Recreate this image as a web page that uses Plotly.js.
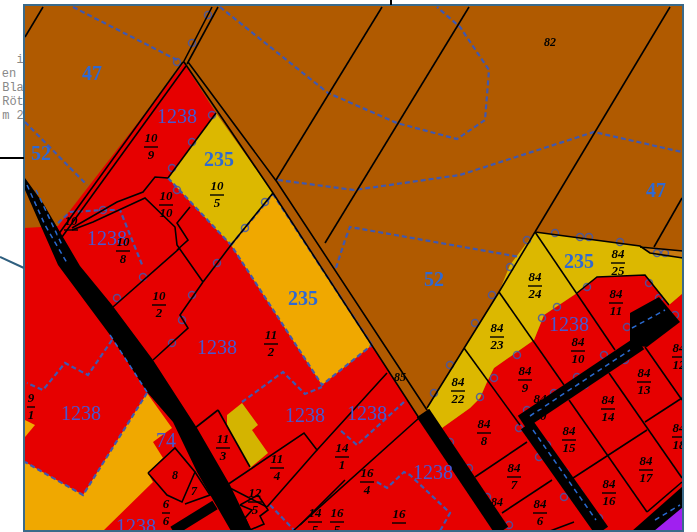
<!DOCTYPE html>
<html><head><meta charset="utf-8">
<script src="https://cdn.plot.ly/plotly-3.0.1.min.js"></script>
<style>html,body{margin:0;padding:0;background:#fff}#m{width:697px;height:532px;filter:blur(0.45px)}</style>
</head><body><div id="m"></div>
<script>
const brownColor='#b05a00',redColor='#e60000',yellowColor='#dcb800',orangeColor='#f0a800',purpleColor='#a020f0';
const blueOnBrown='#2f69d2',blueOnRed='#4658d2',dashBlue='#3f58b0';

const sheet=[[24,5],[683,5],[683,531],[24,531]];
const redLeft=[[184,63],[216,113],[168,178],[231,245],[322,385],[372,345],[419,418],[505,531],[24,531],[24,228],[58,226]];
const redRight=[[427,408],[442,428],[470,408],[480,398],[487,382],[494,368],[534,340],[544,315],[577,293],[597,277],[645,275],[669,305],[683,293],[683,531],[495,531]];
const yellowTop=[[216,113],[273,193],[231,245],[168,178]];
const orangeMid=[[273,194],[372,345],[322,385],[231,245]];
const orangeLow=[[25,462],[83,495],[147,393],[172,428],[153,442],[163,458],[148,473],[153,482],[103,531],[25,531]];
const orangeSliver=[[25,420],[35,425],[25,437]];
const yellowRight=[[535,232],[640,246],[683,252],[683,293],[669,305],[645,275],[597,277],[577,293],[544,315],[534,340],[494,368],[487,382],[480,398],[470,408],[442,428],[427,408],[464,348],[499,292],[510,265]];
const brownStrip=[[640,247],[683,251],[683,258],[650,253]];
const yellowSmall=[[227,415],[242,403],[258,425],[252,430],[268,453],[250,468],[227,425]];
const darkBlock=[[630,313],[659,297],[680,322],[660,337],[647,347],[630,345]];
const darkCorner=[[632,531],[683,486],[683,531]];
const purpleCorner=[[654,531],[683,507],[683,531]];
const roadLeft=[[25,178],[43,203],[80,266],[112,305],[153,360],[187,412],[197,428],[230,485],[252,531],[231,531],[210,495],[197,472],[173,422],[147,392],[110,335],[58,265],[25,190]];

const roadBranch=[[215,505],[173,531]];
const roadCentre=[[423,413],[502,531]];
const roadDiagonal=[[522,422],[640,343]];
const roadDown=[[527,425],[602,531]];

const blackLines=[
 [[25,37],[43,7]],[[183,63],[212,7]],[[187,64],[218,7]],
 [[183,62],[58,235]],[[186,66],[62,237]],
 [[184,62],[273,193],[419,418]],[[188,62],[277,182],[427,410]],
 [[382,7],[276,180]],[[469,7],[325,243]],[[670,7],[535,232]],[[682,198],[654,247]],
 [[535,232],[640,246],[650,253],[683,258]],[[640,247],[683,251]],
 [[535,232],[615,350]],[[499,292],[564,385]],[[569,400],[647,512]],[[464,348],[520,425]],
 [[609,373],[682,478]],[[645,347],[682,400]],[[682,398],[645,422]],[[647,430],[570,480]],
 [[647,512],[682,482]],[[475,477],[527,442]],[[502,513],[552,480]],[[574,522],[550,531]],
 [[427,408],[499,292],[535,232]],
 [[577,293],[597,277],[645,275],[669,305]],
 [[387,373],[317,450],[304,433],[227,485]],[[317,450],[267,507]],[[230,488],[267,507]],
 [[419,418],[293,531]],[[345,480],[300,525]],
 [[72,228],[117,202],[143,192],[155,177],[168,178]],
 [[72,230],[93,222],[145,198],[175,227],[177,245],[203,282]],
 [[190,207],[177,223],[188,240],[177,250]],
 [[113,307],[180,248]],[[203,282],[180,315],[188,328],[153,360]],[[203,282],[231,245]],
 [[273,193],[231,245]],[[216,113],[168,178]],
 [[218,410],[195,428]],[[218,410],[250,467]],[[148,473],[175,448],[195,472],[182,502],[167,495],[148,473]],
 [[195,472],[210,495],[185,504]],
 [[240,505],[258,495],[268,510],[260,516],[264,524],[250,530],[245,518],[252,510],[240,505]]
];
const dashedLines=[
 [[73,7],[177,60]],
 [[220,7],[328,93],[397,123],[457,139],[485,120],[489,70],[460,27],[437,7]],
 [[278,180],[354,190],[460,175],[594,132],[682,152]],
 [[336,268],[345,240],[350,227],[520,257]],
 [[25,122],[87,185]],[[58,223],[70,212],[103,210],[120,210],[143,267]],
 [[112,340],[88,375],[65,363],[43,390],[27,383]],
 [[147,393],[83,495],[25,462]],
 [[242,402],[283,372],[305,394],[322,387]],
 [[404,402],[357,445],[340,430]],
 [[377,482],[387,488],[404,472],[410,475],[450,513],[440,531]],
 [[168,178],[231,245],[322,385],[372,345]],[[231,245],[273,194]],[[273,194],[372,345]],
 [[270,505],[295,531]]
];
const roadDashes=[
 [[27,185],[45,225],[67,263]],[[36,190],[62,245]],[[110,335],[147,392]],
 [[530,416],[630,350]],[[533,430],[596,520]],[[632,328],[665,310]],[[655,520],[680,505]]
];
const bumpX=[208,192,177,212,192,172,177,265,245,103,217,143,117,192,182,172,492,475,450,434,480,587,557,542,517,494,649,659,675,627,604,577,554,527,519,547,539,565,579,564,599,585,625,469,450,487,509,527,510,555,580,589,620,657,665];
const bumpY=[15,43,62,115,142,168,190,202,228,210,263,277,298,295,320,343,295,323,365,393,397,287,307,318,355,378,283,298,315,327,355,377,393,410,428,445,457,472,492,497,518,385,360,468,442,497,525,240,267,233,237,237,242,253,253];

const bigLabels=['47','52','47','52','235','235','235','1238','1238','1238','1238','1238','1238','1238','1238','1238','74'];
const bigX=[92,41,656,434,219,303,579,177,107,217,81,305,367,433,569,136,166];
const bigY=[75,155,192,281,161,300,263,118,240,349,415,417,415,474,326,528,442];
const bigColors=[0,0,0,0,0,0,0,1,1,1,1,1,1,1,1,1,1];

const fractionNum=['10','10','10','10','10','10','11','9','11','11','14','6','12','14','16','84','84','84','84','84','84','84','84','84','84','84','84','84','84','84','84','84','84','16','16'];
const fractionDen=['9','10','5','8','','2','2','1','3','4','1','6','5','5','5','25','24','23','22','11','10','9','8','7','6','15','14','13','12','16','17','18','20','4',''];
const fractionX=[151,166,217,123,71,159,271,31,223,277,342,166,255,315,337,618,535,497,458,616,578,525,484,514,540,569,608,644,679,609,646,679,540,367,399];
const fractionY=[147,205,195,251,230,305,344,407,448,468,457,513,502,522,522,263,286,337,391,303,351,380,433,477,513,440,409,382,357,493,470,437,408,482,523];
const plainLabels=['82','8','7','85','84'];
const plainX=[550,175,194,400,497];
const plainY=[43,476,492,378,503];

const marginText=['i','en','Bla','Röt','m 2'];
const marginX=[20,9,13,13,13];
const marginY=[60,74,88,102,116];

const xy=(p,i)=>p.map(q=>q[i]);
const poly=(p,color)=>({x:[...xy(p,0),p[0][0]],y:[...xy(p,1),p[0][1]],mode:'lines',fill:'toself',fillcolor:color,line:{width:0},hoverinfo:'skip'});
const path=(p,color,width,dash)=>({x:xy(p,0),y:xy(p,1),mode:'lines',line:{color,width,dash:dash||'solid',shape:'linear'},hoverinfo:'skip'});
const flat=(ls,i)=>ls.flatMap(l=>[...xy(l,i),null]);
const many=(ls,color,width,dash)=>({x:flat(ls,0),y:flat(ls,1),mode:'lines',line:{color,width,dash:dash||'solid'},hoverinfo:'skip'});
const label=(x,y,text,font,color,size,extra)=>({x,y,text,mode:'text',textposition:'middle center',textfont:{family:font,size,color},hoverinfo:'skip',...extra});

const serif='"Liberation Serif", serif';
const bold=s=>'<b>'+s+'</b>';
const boldItalic=s=>'<b><i>'+s+'</i></b>';
const barSegs=fractionX.map((x,i)=>{const h=fractionNum[i].length>1?7:4;return [[x-h,fractionY[i]],[x+h,fractionY[i]]];});

const traces=[
 label(marginX,marginY,marginText,'"Liberation Mono", monospace','#888',12),
 poly(sheet,brownColor),
 poly(redLeft,redColor),poly(redRight,redColor),
 poly(yellowTop,yellowColor),poly(orangeMid,orangeColor),poly(orangeLow,orangeColor),poly(orangeSliver,orangeColor),
 poly(yellowRight,yellowColor),poly(brownStrip,'#c87a10'),poly(yellowSmall,'#d4b400'),
 many(dashedLines,dashBlue,2.2,'5px,3px'),
 {x:bumpX,y:bumpY,mode:'markers',marker:{symbol:'circle-open',size:7,color:dashBlue,line:{width:1.5,color:dashBlue}},opacity:0.85,hoverinfo:'skip'},
 poly(roadLeft,'#000'),path(roadBranch,'#000',10),path(roadCentre,'#000',15),path(roadDiagonal,'#000',15),path(roadDown,'#000',15),
 poly(darkBlock,'#000'),poly(darkCorner,'#000'),poly(purpleCorner,purpleColor),
 many(roadDashes,'#2a6ad0',1.5,'5px,4px'),
 many(blackLines,'#000',1.6),
 label(bigX.filter((_,i)=>!bigColors[i]),bigY.filter((_,i)=>!bigColors[i]),bigLabels.filter((_,i)=>!bigColors[i]).map(bold),serif,blueOnBrown,20),
 label(bigX.filter((_,i)=>bigColors[i]),bigY.filter((_,i)=>bigColors[i]),bigLabels.filter((_,i)=>bigColors[i]),serif,blueOnRed,20),
 many(barSegs,'#000',1.4),
 label(fractionX,fractionY.map(y=>y-8),fractionNum.map(boldItalic),serif,'#000',13),
 label(fractionX,fractionY.map(y=>y+9),fractionDen.map(boldItalic),serif,'#000',13),
 label(plainX,plainY,plainLabels.map(boldItalic),serif,'#000',12)
];
const layout={width:697,height:532,margin:{l:0,r:0,t:0,b:0},paper_bgcolor:'#fff',plot_bgcolor:'#fff',showlegend:false,
 xaxis:{range:[0,697],visible:false,fixedrange:true},yaxis:{range:[532,0],visible:false,fixedrange:true},
 shapes:[
  {type:'rect',xref:'x',yref:'y',x0:684,x1:697,y0:0,y1:532,fillcolor:'#fff',line:{width:0},layer:'above'},
  {type:'rect',xref:'x',yref:'y',x0:24,x1:683,y0:5,y1:531,fillcolor:'rgba(0,0,0,0)',line:{color:'#3a6a8a',width:2},layer:'above'},
  {type:'line',xref:'x',yref:'y',x0:0,x1:24,y0:158,y1:158,line:{color:'#000',width:2},layer:'above'},
  {type:'line',xref:'x',yref:'y',x0:0,x1:24,y0:257,y1:268,line:{color:'#2f5f7f',width:2},layer:'above'},
  {type:'line',xref:'x',yref:'y',x0:391,x1:391,y0:0,y1:5,line:{color:'#000',width:2},layer:'above'}
 ]};
Plotly.newPlot('m',traces,layout,{displayModeBar:false,staticPlot:true});
</script></body></html>
